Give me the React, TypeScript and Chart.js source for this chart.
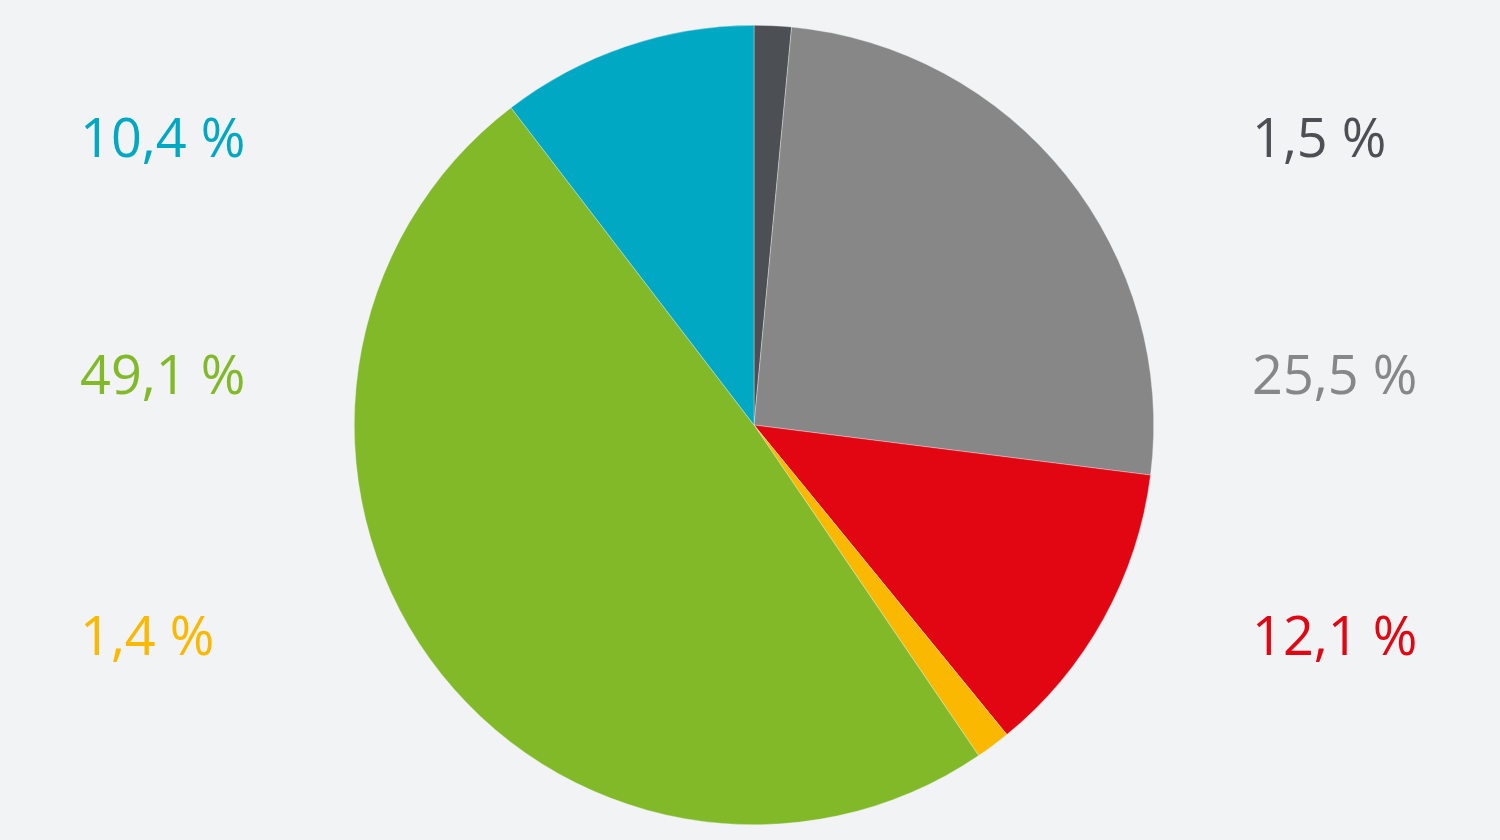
import React, { useEffect, useRef } from 'react';
import { Chart, registerables } from 'chart.js';

Chart.register(...registerables);

const labels = ['1,5 %', '25,5 %', '12,1 %', '1,4 %', '49,1 %', '10,4 %'];
const values = [1.5, 25.5, 12.1, 1.4, 49.1, 10.4];
const colors = ['#4c5055', '#878787', '#e20613', '#fbb800', '#82b929', '#00a8c4'];

// where each label sits on the page (side, row)
const labelSide = ['right', 'right', 'right', 'left', 'left', 'left'];
const labelRow = [142, 379, 640, 640, 379, 142];

const BG = '#f2f3f5';

const labelPlugin = {
  id: 'sideLabels',
  afterDraw(chart: Chart) {
    const ctx = chart.ctx;
    ctx.save();
    ctx.font = '400 54px "Open Sans", sans-serif';
    ctx.textBaseline = 'middle';
    ctx.textAlign = 'left';
    labels.forEach((txt, i) => {
      ctx.fillStyle = colors[i];
      const x = labelSide[i] === 'right' ? 1252 : 80;
      ctx.fillText(txt, x, labelRow[i]);
    });
    ctx.restore();
  },
};

const App: React.FC = () => {
  const chartRef = useRef<HTMLCanvasElement>(null);
  const chartInstance = useRef<Chart | null>(null);

  useEffect(() => {
    document.body.style.margin = '0';
    if (!chartRef.current) return;
    if (chartInstance.current) chartInstance.current.destroy();

    chartInstance.current = new Chart(chartRef.current, {
      type: 'pie',
      data: {
        labels,
        datasets: [
          {
            data: values,
            backgroundColor: colors,
            borderColor: 'rgba(242,243,245,0.6)',
            borderWidth: 0.6,
          },
        ],
      },
      options: {
        responsive: true,
        maintainAspectRatio: false,
        animation: false,
        layout: { padding: { top: 25, bottom: 15, left: 8, right: 0 } },
        plugins: {
          legend: { display: false },
          tooltip: { enabled: false },
        },
      },
      plugins: [labelPlugin],
    });

    return () => {
      if (chartInstance.current) {
        chartInstance.current.destroy();
        chartInstance.current = null;
      }
    };
  }, []);

  return (
    <div style={{ width: 1500, height: 840, background: BG, position: 'relative' }}>
      <canvas ref={chartRef}></canvas>
    </div>
  );
};

export default App;
